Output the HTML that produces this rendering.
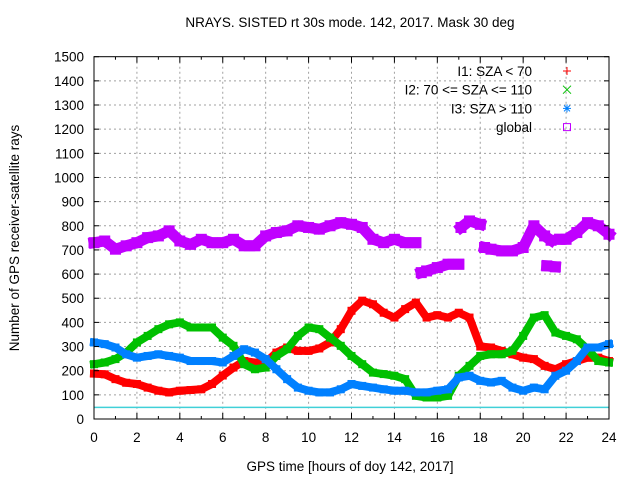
<!DOCTYPE html>
<html><head><meta charset="utf-8"><style>
body{margin:0;background:#fff;}
svg{display:block;font-family:"Liberation Sans",sans-serif;}
</style></head><body>
<svg id="chart" width="640" height="480" viewBox="0 0 640 480">
<rect width="640" height="480" fill="#fff"/>
<text x="350" y="27" font-size="13.5" text-anchor="middle" fill="#000">NRAYS. SISTED rt 30s mode. 142, 2017. Mask 30 deg</text>
<text x="350" y="471" font-size="13.5" text-anchor="middle" fill="#000">GPS time [hours of doy 142, 2017]</text>
<text x="0" y="0" font-size="13.5" text-anchor="middle" fill="#000" transform="translate(19,238) rotate(-90)">Number of GPS receiver-satellite rays</text>
<g id="grid"></g>
<g id="series"></g>
<g id="axes"></g>
<g id="legend"></g>
</svg>
<script>
const hours = [0,0.5,1,1.5,2,2.5,3,3.5,4,4.5,5,5.5,6,6.5,7,7.5,8,8.5,9,9.5,10,10.5,11,11.5,12,12.5,13,13.5,14,14.5,15,15.5,16,16.5,17,17.5,18,18.5,19,19.5,20,20.5,21,21.5,22,22.5,23,23.5,24];
const i1Values = [188,185,165,150,145,130,117,110,117,120,123,145,180,213,240,234,234,275,296,282,282,292,317,372,448,490,475,440,420,455,482,420,430,420,440,420,300,296,282,268,254,248,220,206,227,240,254,254,240];
const i2Values = [227,234,248,275,317,344,372,392,400,379,379,379,337,303,227,206,213,261,289,344,379,372,337,303,261,227,192,186,179,165,96,89,89,96,179,220,261,268,268,282,344,420,430,358,344,330,289,240,234];
const i3Values = [317,310,296,268,254,261,268,261,254,240,240,240,234,261,289,275,248,206,165,130,117,110,110,123,145,137,130,123,117,117,110,110,117,123,172,179,158,151,158,130,117,130,123,179,200,240,296,296,310];
const globalHours = [0,0.5,1,1.5,2,2.5,3,3.5,4,4.5,5,5.5,6,6.5,7,7.5,8,8.5,9,9.5,10,10.5,11,11.5,12,12.5,13,13.5,14,14.5,15,null,15.25,15.5,16,16.5,17,null,17.1,17.5,18,null,18.2,18.5,19,19.5,20,20.5,21,21.3,null,21.1,21.5,null,21.7,22,22.5,23,23.5,24];
const globalValues = [730,737,703,717,730,751,758,779,737,723,744,730,730,744,717,717,758,772,779,800,793,786,800,813,806,793,744,730,744,730,730,null,606,613,627,641,641,null,793,820,806,null,710,703,696,696,710,800,758,740,null,634,630,null,744,744,772,813,800,765];
const refLine = [48];
const yTicks = [0,100,200,300,400,500,600,700,800,900,1000,1100,1200,1300,1400,1500];
const xTicks = [0,2,4,6,8,10,12,14,16,18,20,22,24];

const L=94,R=609,T=56.7,B=419;
const X=h=>L+(h/24)*(R-L);
const Y=v=>B-(v/1500)*(B-T);
const NS='http://www.w3.org/2000/svg';
function mk(tag,attrs,parent){const e=document.createElementNS(NS,tag);for(const k in attrs)e.setAttribute(k,attrs[k]);parent.appendChild(e);return e;}
const grid=document.getElementById('grid'),axes=document.getElementById('axes'),series=document.getElementById('series'),legend=document.getElementById('legend');

yTicks.forEach(v=>{
  const y=Y(v);
  if(v>0&&v<1500){const g=mk('line',{x1:L,x2:R,y1:y,y2:y,stroke:'#a0a0a0','stroke-width':1,'stroke-dasharray':'2,3'},grid);
  
  }
  mk('line',{x1:L,x2:L+5,y1:y,y2:y,stroke:'#000'},axes);
  mk('line',{x1:R,x2:R-5,y1:y,y2:y,stroke:'#000'},axes);
  const t=mk('text',{x:84,y:y+5,'font-size':13.5,'text-anchor':'end',fill:'#000'},axes);
  t.textContent=v;
  
  
});
for(let h=0;h<=24;h++){
  const x=X(h),len=(h%2===0)?6:3;
  mk('line',{x1:x,x2:x,y1:B,y2:B-len,stroke:'#000'},axes);
  mk('line',{x1:x,x2:x,y1:T,y2:T+len,stroke:'#000'},axes);
}
xTicks.forEach(h=>{
  const x=X(h);
  if(h>0&&h<24){const g=mk('line',{x1:x,x2:x,y1:T,y2:B,stroke:'#a0a0a0','stroke-width':1,'stroke-dasharray':'2,3'},grid);
  
  }
  const t=mk('text',{x:x,y:442,'font-size':13.5,'text-anchor':'middle',fill:'#000'},axes);
  t.textContent=h;
  
  
});
const frame=mk('rect',{x:L,y:T,width:R-L,height:B-T,fill:'none',stroke:'#000','stroke-width':1},axes);



const rl=mk('line',{x1:L,x2:R,y1:Y(refLine[0]),y2:Y(refLine[0]),stroke:'#40d0d8','stroke-width':1.5},series);



function drawSeries(name,xs,vs,color,w){
  const g=mk('g',{},series);
  
  
  let seg=[];
  const flush=()=>{if(seg.length){const p=mk('polyline',{points:seg.join(' '),fill:'none',stroke:color,'stroke-width':w,'stroke-linejoin':'bevel','stroke-linecap':'square'},g);
    
    }seg=[];};
  for(let i=0;i<xs.length;i++){
    if(xs[i]===null||vs[i]===null){flush();continue;}
    const x=X(xs[i]),y=Y(vs[i]);
    seg.push(x.toFixed(1)+','+y.toFixed(1));
    const c=mk('rect',{x:x-w/2,y:y-w/2,width:w,height:w,fill:color},g);
    
    
  }
  flush();
}
drawSeries('series-i1',hours,i1Values,'#ff0000',8);
drawSeries('series-i2',hours,i2Values,'#00c000',8);
drawSeries('series-i3',hours,i3Values,'#0080ff',8);
drawSeries('series-global',globalHours,globalValues,'#c000ff',11);

const legItems=[['I1: SZA < 70','#ff0000','+'],['I2: 70 <= SZA <= 110','#00c000','x'],['I3: SZA > 110','#0080ff','*'],['global','#c000ff','s']];
legItems.forEach((it,i)=>{
  const y=71+i*18.7;
  const t=mk('text',{x:532,y:y+5,'font-size':13.5,'text-anchor':'end',fill:'#000'},legend);
  t.textContent=it[0];
  
  
  const g=mk('g',{stroke:it[1],'stroke-width':1,fill:'none'},legend);
  
  
  const cx=567;
  if(it[2]==='+'){mk('line',{x1:cx-4,x2:cx+4,y1:y,y2:y},g);mk('line',{x1:cx,x2:cx,y1:y-4,y2:y+4},g);}
  if(it[2]==='x'){mk('line',{x1:cx-4,x2:cx+4,y1:y-4,y2:y+4},g);mk('line',{x1:cx-4,x2:cx+4,y1:y+4,y2:y-4},g);}
  if(it[2]==='*'){mk('line',{x1:cx-4,x2:cx+4,y1:y,y2:y},g);mk('line',{x1:cx,x2:cx,y1:y-4,y2:y+4},g);mk('line',{x1:cx-3,x2:cx+3,y1:y-3,y2:y+3},g);mk('line',{x1:cx-3,x2:cx+3,y1:y+3,y2:y-3},g);}
  if(it[2]==='s'){mk('rect',{x:cx-3.5,y:y-3.5,width:7,height:7},g);}
});
</script>
</body></html>
